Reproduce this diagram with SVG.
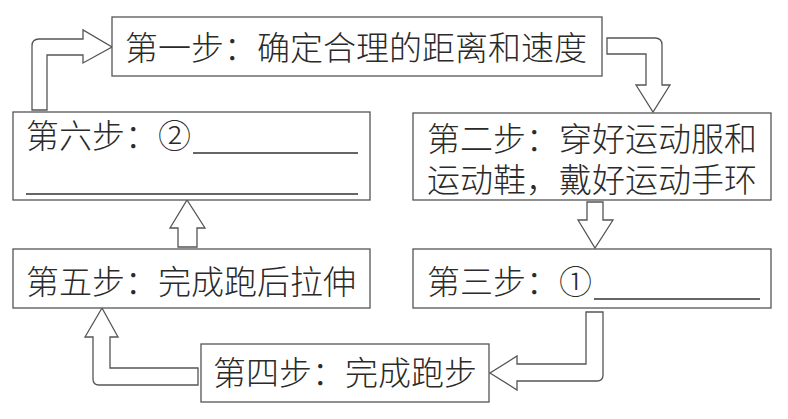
<svg xmlns="http://www.w3.org/2000/svg" width="788" height="419" viewBox="0 0 788 419">
<style>
.box{fill:#fff;stroke:#555;stroke-width:1.3}
.t{font-family:"Noto Sans CJK SC","Noto Sans CJK JP",sans-serif;font-size:33px;font-weight:300;fill:#2a2a2a}
.ul{stroke:#333;stroke-width:1.3;fill:none}
.arr{fill:#fff;stroke:#555;stroke-width:1.3;stroke-linejoin:miter}
</style>
<rect width="788" height="419" fill="#fff"/>
<g id="connectors">
<path class="arr" d="M32,110 V46 Q32,39 39,39 H83 V30 L112,47 L83,63 V55 H47 V110 Z"/>
<path class="arr" d="M607,38 H655 Q662,38 662,45 V85 H670 L653,112 L636,85 H646 V54 H607 Z"/>
<path class="arr" d="M587,202 H603 V220 H613 L595,248 L578,220 H587 Z"/>
<path class="arr" d="M586,312 H603 V375 Q603,381 597,381 H517 V390 L490,373 L517,356 V364 H586 Z"/>
<path class="arr" d="M198,368 H110 V337 H118 L102,308 L85,337 H93 V379 Q93,385 99,385 H198 Z"/>
<path class="arr" d="M178,247 H197 V228 H205 L187,200 L170,228 H178 Z"/>
</g>
<g id="step1">
<rect class="box" x="112" y="17" width="490" height="59"/>
<text class="t" x="125" y="60">第一步：确定合理的距离和速度</text>
</g>
<g id="step2">
<rect class="box" x="413" y="113" width="358" height="87"/>
<text class="t"><tspan x="427" y="151">第二步：穿好运动服和</tspan><tspan x="427" y="192">运动鞋，戴好运动手环</tspan></text>
</g>
<g id="step3">
<rect class="box" x="413" y="249" width="358" height="59"/>
<text class="t" x="427" y="294">第三步：①</text>
<line class="ul" x1="594" y1="299" x2="760" y2="299"/>
</g>
<g id="step4">
<rect class="box" x="201" y="344" width="288" height="58"/>
<text class="t" x="213" y="385">第四步：完成跑步</text>
</g>
<g id="step5">
<rect class="box" x="13" y="249" width="357" height="59"/>
<text class="t" x="26" y="294">第五步：完成跑后拉伸</text>
</g>
<g id="step6">
<rect class="box" x="13" y="112" width="357" height="88"/>
<text class="t" x="26" y="148">第六步：②</text>
<line class="ul" x1="193" y1="153" x2="358" y2="153"/>
<line class="ul" x1="26" y1="194" x2="358" y2="194"/>
</g>
</svg>
